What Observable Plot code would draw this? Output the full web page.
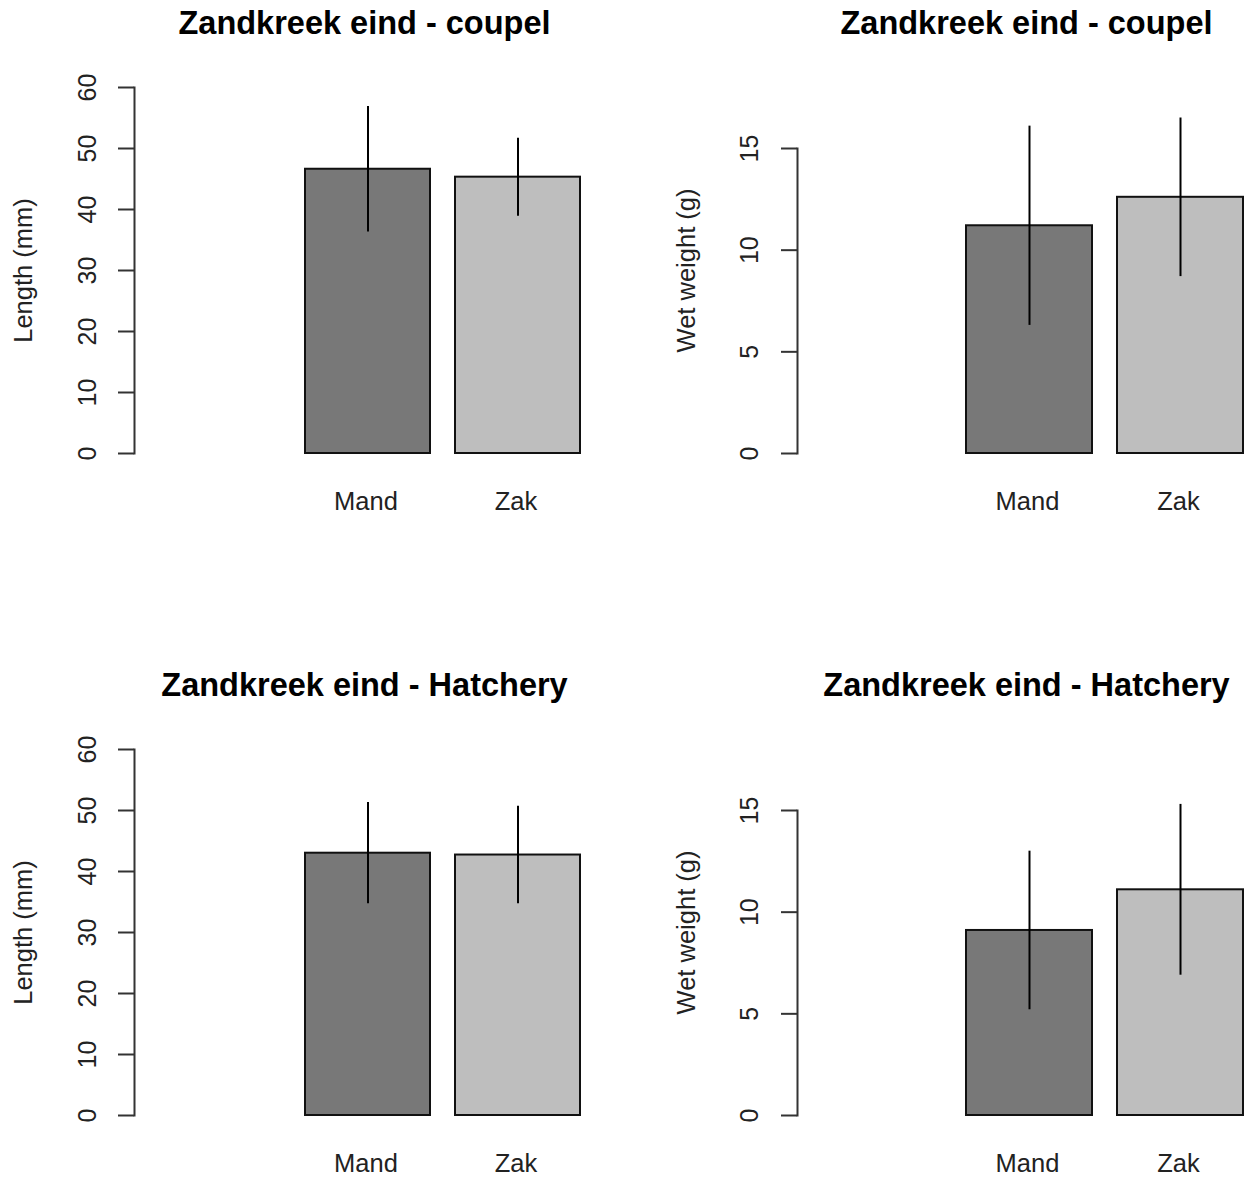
<!DOCTYPE html>
<html><head><meta charset="utf-8">
<script src="https://cdn.jsdelivr.net/npm/d3@7"></script>
<script src="https://cdn.jsdelivr.net/npm/@observablehq/plot@0.6"></script>
<style>
body{margin:0;background:#fff;}
#root{position:relative;width:1245px;height:1180px;background:#fff;overflow:hidden;}
.panel{position:absolute;}
</style></head><body><div id="root"></div>
<script>
// ---- data ----
const categories = ["Mand", "Zak"];
const barColors = ["#787878", "#bebebe"];
const lengthTicks = [0, 10, 20, 30, 40, 50, 60];
const weightTicks = [0, 5, 10, 15];
const coupelLengthMean = [46.6, 45.3];
const coupelLengthSd = [10.3, 6.4];
const coupelWeightMean = [11.2, 12.6];
const coupelWeightSd = [4.9, 3.9];
const hatcheryLengthMean = [43.0, 42.7];
const hatcheryLengthSd = [8.3, 8.0];
const hatcheryWeightMean = [9.1, 11.1];
const hatcheryWeightSd = [3.9, 4.2];
const titles = ["Zandkreek eind - coupel", "Zandkreek eind - coupel", "Zandkreek eind - Hatchery", "Zandkreek eind - Hatchery"];
const yLabels = ["Length (mm)", "Wet weight (g)"];

// ---- layout ----
const FONT = "'Liberation Sans', Arial, Helvetica, sans-serif";
const H = 518;
const lengthLayout = {width: 622, marginLeft: 134, marginTop: 87, xRange: [304, 580], domain: [0, 60], ticks: lengthTicks, titleX: 364, labelX: 23, labelY: 270, tickDx: -47};
const weightLayout = {width: 623, marginLeft: 175, marginTop: 148, xRange: [343, 621], domain: [0, 15], ticks: weightTicks, titleX: 404, labelX: 64, labelY: 270, tickDx: -48};

function panel(title, yLabel, means, sds, L) {
  const data = categories.map((c, i) => ({cat: c, mean: means[i], sd: sds[i]}));
  const marginBottom = H - 453;
  return Plot.plot({
    width: L.width, height: H,
    marginLeft: L.marginLeft, marginTop: L.marginTop, marginBottom, marginRight: 0,
    style: {fontFamily: FONT, background: "white", overflow: "visible"},
    x: {domain: categories, range: L.xRange, paddingInner: 1 / 6, paddingOuter: 0, axis: null},
    y: {domain: L.domain, axis: null},
    color: {domain: categories, range: barColors},
    marks: [
      Plot.barY(data, {x: "cat", y: "mean", fill: "cat", stroke: "#111", strokeWidth: 2}),
      Plot.ruleX(data, {x: "cat", y1: d => d.mean - d.sd, y2: d => d.mean + d.sd, stroke: "#000", strokeWidth: 2}),
      Plot.frame({anchor: "left", stroke: "#333", strokeWidth: 2}),
      Plot.axisY({ticks: L.ticks, tickSize: 16, tickFormat: () => "", stroke: "#333", strokeWidth: 2, label: null}),
      Plot.text(L.ticks, {y: d => d, text: d => String(d), frameAnchor: "left", dx: L.tickDx, rotate: -90, textAnchor: "middle", lineAnchor: "middle", fontSize: 25, fill: "#222"}),
      Plot.text(data, {x: "cat", text: "cat", frameAnchor: "bottom", dx: -2, dy: 48, lineAnchor: "middle", fontSize: 25.5, fill: "#222"}),
      Plot.text([yLabel], {frameAnchor: "top-left", dx: L.labelX - L.marginLeft, dy: L.labelY - L.marginTop, rotate: -90, textAnchor: "middle", lineAnchor: "middle", fontSize: 25.5, fill: "#222"}),
      Plot.text([title], {frameAnchor: "top-left", dx: L.titleX - L.marginLeft, dy: 23 - L.marginTop, textAnchor: "middle", lineAnchor: "middle", fontSize: 32.5, fontWeight: "bold", fill: "#000"})
    ]
  });
}

const root = document.getElementById("root");
const specs = [
  [titles[0], yLabels[0], coupelLengthMean, coupelLengthSd, lengthLayout, 0, 0],
  [titles[1], yLabels[1], coupelWeightMean, coupelWeightSd, weightLayout, 622, 0],
  [titles[2], yLabels[0], hatcheryLengthMean, hatcheryLengthSd, lengthLayout, 0, 662],
  [titles[3], yLabels[1], hatcheryWeightMean, hatcheryWeightSd, weightLayout, 622, 662]
];
for (const [t, yl, m, s, L, left, top] of specs) {
  const div = document.createElement("div");
  div.className = "panel";
  div.style.left = left + "px";
  div.style.top = top + "px";
  div.appendChild(panel(t, yl, m, s, L));
  root.appendChild(div);
}
</script></body></html>
